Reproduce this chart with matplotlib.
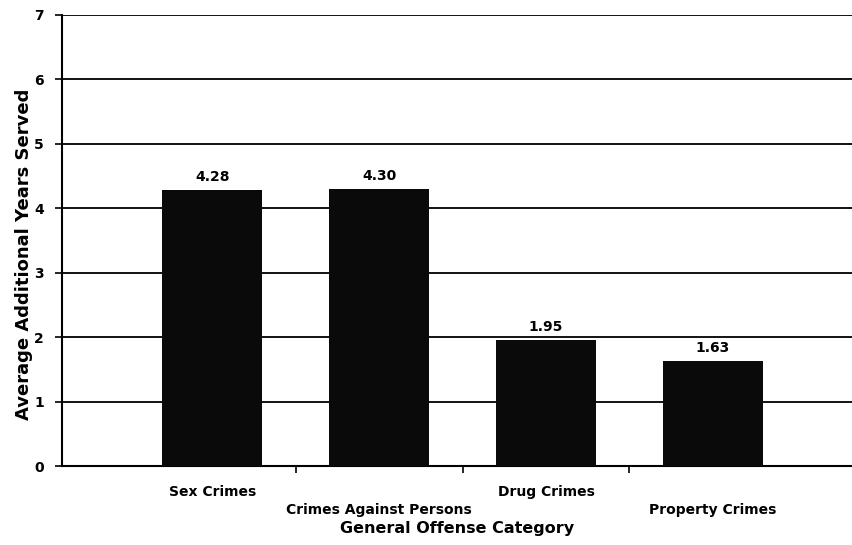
import matplotlib
matplotlib.use("Agg")
import matplotlib.pyplot as plt

categories = ["Sex Crimes", "Crimes Against Persons", "Drug Crimes", "Property Crimes"]
values = [4.28, 4.30, 1.95, 1.63]
value_labels = ["4.28", "4.30", "1.95", "1.63"]
yticks = [0, 1, 2, 3, 4, 5, 6, 7]

fig = plt.figure(figsize=(8.53, 5.45), dpi=100)
ax = fig.add_axes([62/853, 79/545, 1 - 62/853, 451/545])

x = list(range(len(categories)))
ax.bar(x, values, width=0.6, color="#0a0a0a", zorder=3)

for xi, v, lab in zip(x, values, value_labels):
    ax.text(xi, v + 0.1, lab, ha="center", va="bottom", fontsize=10,
            fontweight="bold", family="DejaVu Sans")

ax.set_xlim(-0.9, 3.84)
ax.set_ylim(0, 7)
ax.set_yticks(yticks)
ax.set_yticklabels([str(t) for t in yticks], fontsize=10, fontweight="bold")
ax.yaxis.grid(True, color="black", linewidth=1.3, zorder=1)
ax.set_axisbelow(True)

ax.set_xticks(x)
ax.set_xticklabels([c if i % 2 == 0 else "\n" + c for i, c in enumerate(categories)],
                   fontsize=10, fontweight="bold", linespacing=1.35)
ax.tick_params(axis="x", which="major", length=0, pad=14)
ax.set_xticks([0.5, 1.5, 2.5], minor=True)
ax.tick_params(axis="x", which="minor", length=5, width=1.2, direction="out")
ax.tick_params(axis="y", length=5, width=1.2, direction="out", pad=8)

for s in ["top", "right"]:
    ax.spines[s].set_visible(False)
ax.spines["left"].set_linewidth(1.5)
ax.spines["bottom"].set_linewidth(1.5)

ax.set_xlabel("General Offense Category", fontsize=11.5, fontweight="bold", labelpad=3)
ax.set_ylabel("Average Additional Years Served", fontsize=13, fontweight="bold")
ax.yaxis.set_label_coords(-0.037, 0.47)

fig.savefig("out.png", dpi=100)
